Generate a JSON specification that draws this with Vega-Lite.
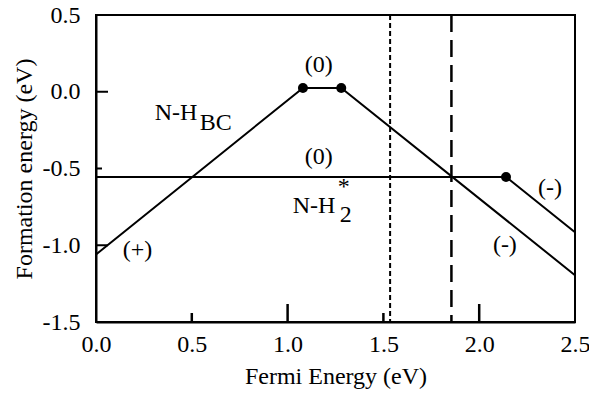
{
  "$schema": "https://vega.github.io/schema/vega-lite/v6.json",
  "width": 479,
  "height": 307,
  "autosize": {"type": "none"},
  "padding": {"left": 96, "top": 15, "right": 14, "bottom": 77},
  "background": "white",
  "config": {
    "view": {"stroke": "black", "strokeWidth": 2},
    "axis": {
      "domainColor": "black",
      "domainWidth": 2,
      "labelColor": "black",
      "titleColor": "black",
      "labelFont": "Liberation Serif",
      "titleFont": "Liberation Serif",
      "labelFontSize": 24,
      "titleFontSize": 24,
      "titleFontWeight": "normal",
      "grid": false,
      "ticks": false,
      "labelFlush": false,
      "labelOverlap": false
    }
  },
  "datasets": {
    "lines": [
      {"series": "BC", "x": 0, "y": -1.06},
      {"series": "BC", "x": 1.08, "y": 0.025},
      {"series": "BC", "x": 1.28, "y": 0.025},
      {"series": "BC", "x": 2.5, "y": -1.195},
      {"series": "H2", "x": 0, "y": -0.555},
      {"series": "H2", "x": 2.14, "y": -0.555},
      {"series": "H2", "x": 2.5, "y": -0.915}
    ],
    "points": [
      {"x": 1.08, "y": 0.025},
      {"x": 1.28, "y": 0.025},
      {"x": 2.14, "y": -0.555}
    ],
    "dotted": [{"x": 1.535}],
    "dashed": [{"x": 1.855}],
    "xMinor": [{"v": 0.5}, {"v": 1.5}],
    "xMajor": [{"v": 1}, {"v": 2}],
    "yMinor": [{"v": -0.5}],
    "yMajor": [{"v": -1}, {"v": 0}],
    "charges": [
      {"label": "(0)", "x": 1.163, "y": 0.174},
      {"label": "(0)", "x": 1.163, "y": -0.425},
      {"label": "(-)", "x": 2.369, "y": -0.627},
      {"label": "(-)", "x": 2.134, "y": -0.998},
      {"label": "(+)", "x": 0.217, "y": -1.031}
    ],
    "names": [
      {"label": "N-H", "x": 0.306, "y": -0.184},
      {"label": "BC", "x": 0.541, "y": -0.249},
      {"label": "N-H", "x": 1.027, "y": -0.79},
      {"label": "2", "x": 1.272, "y": -0.849},
      {"label": "*", "x": 1.262, "y": -0.666}
    ]
  },
  "layer": [
    {
      "data": {"name": "dotted"},
      "mark": {"type": "rule", "color": "black", "strokeWidth": 2, "strokeDash": [5, 3]},
      "encoding": {
        "x": {
          "field": "x",
          "type": "quantitative",
          "scale": {"domain": [0, 2.5], "nice": false, "zero": false},
          "axis": {
            "values": [0, 0.5, 1, 1.5, 2, 2.5],
            "format": ".1f",
            "title": "Fermi Energy (eV)",
            "labelPadding": 10,
            "titlePadding": 8
          }
        }
      }
    },
    {
      "data": {"name": "dashed"},
      "mark": {"type": "rule", "color": "black", "strokeWidth": 2.5, "strokeDash": [17, 8]},
      "encoding": {"x": {"field": "x", "type": "quantitative"}}
    },
    {
      "data": {"name": "lines"},
      "mark": {"type": "line", "color": "black", "strokeWidth": 2},
      "encoding": {
        "x": {"field": "x", "type": "quantitative"},
        "y": {
          "field": "y",
          "type": "quantitative",
          "scale": {"domain": [-1.5, 0.5], "nice": false, "zero": false},
          "axis": {
            "values": [-1.5, -1, -0.5, 0, 0.5],
            "labelExpr": "datum.value < 0 ? '-' + format(-datum.value, '.1f') : format(datum.value, '.1f')",
            "title": "Formation energy (eV)",
            "labelPadding": 16,
            "titlePadding": 6
          }
        },
        "detail": {"field": "series"}
      }
    },
    {
      "data": {"name": "xMinor"},
      "mark": {"type": "tick", "orient": "vertical", "size": 9, "thickness": 2.5, "color": "black", "opacity": 1, "yOffset": -4.5},
      "encoding": {
        "x": {"field": "v", "type": "quantitative"},
        "y": {"datum": -1.5, "type": "quantitative"}
      }
    },
    {
      "data": {"name": "xMajor"},
      "mark": {"type": "tick", "orient": "vertical", "size": 18, "thickness": 2.5, "color": "black", "opacity": 1, "yOffset": -9},
      "encoding": {
        "x": {"field": "v", "type": "quantitative"},
        "y": {"datum": -1.5, "type": "quantitative"}
      }
    },
    {
      "data": {"name": "yMinor"},
      "mark": {"type": "tick", "orient": "horizontal", "size": 6, "thickness": 2, "color": "black", "opacity": 1, "xOffset": 3},
      "encoding": {
        "y": {"field": "v", "type": "quantitative"},
        "x": {"datum": 0, "type": "quantitative"}
      }
    },
    {
      "data": {"name": "yMajor"},
      "mark": {"type": "tick", "orient": "horizontal", "size": 12, "thickness": 2, "color": "black", "opacity": 1, "xOffset": 6},
      "encoding": {
        "y": {"field": "v", "type": "quantitative"},
        "x": {"datum": 0, "type": "quantitative"}
      }
    },
    {
      "data": {"name": "points"},
      "mark": {"type": "point", "filled": true, "color": "black", "opacity": 1, "size": 100},
      "encoding": {
        "x": {"field": "x", "type": "quantitative"},
        "y": {"field": "y", "type": "quantitative"}
      }
    },
    {
      "data": {"name": "charges"},
      "mark": {"type": "text", "font": "Liberation Serif", "fontSize": 24, "color": "black", "align": "center", "baseline": "middle"},
      "encoding": {
        "x": {"field": "x", "type": "quantitative"},
        "y": {"field": "y", "type": "quantitative"},
        "text": {"field": "label"}
      }
    },
    {
      "data": {"name": "names"},
      "mark": {"type": "text", "font": "Liberation Serif", "fontSize": 24, "color": "black", "align": "left", "baseline": "alphabetic"},
      "encoding": {
        "x": {"field": "x", "type": "quantitative"},
        "y": {"field": "y", "type": "quantitative"},
        "text": {"field": "label"}
      }
    }
  ]
}
